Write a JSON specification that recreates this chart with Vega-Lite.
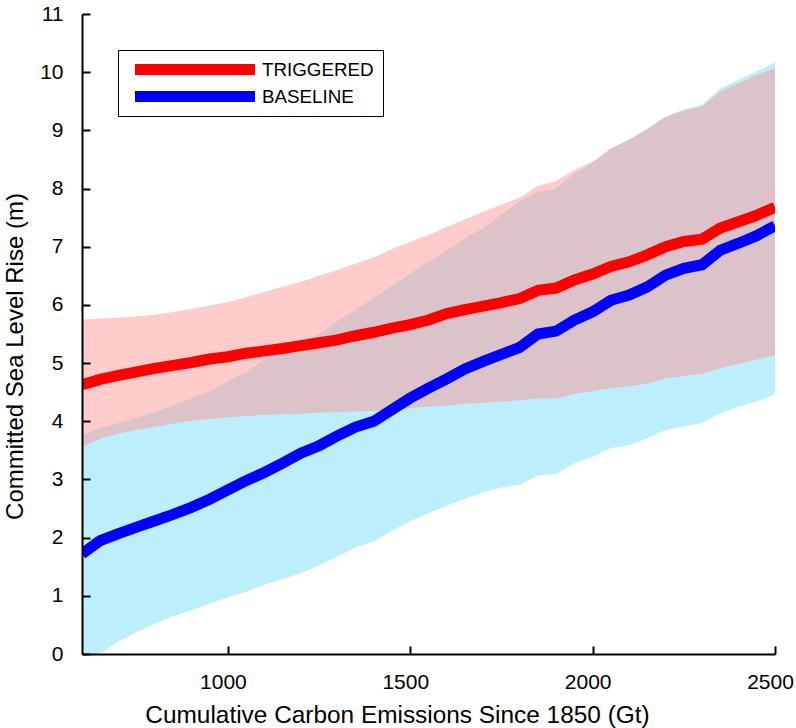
{
  "$schema": "https://vega.github.io/schema/vega-lite/v6.json",
  "width": 693,
  "height": 640,
  "autosize": {"type": "none"},
  "padding": {"left": 82, "top": 14, "right": 21, "bottom": 74},
  "background": "white",
  "data": {
    "values": [
      {"x": 600, "TRIGGERED": 4.63, "BASELINE": 1.72, "pinkLo": 3.56, "pinkHi": 5.75, "blueLo": -0.35, "blueHi": 3.76},
      {"x": 650, "TRIGGERED": 4.72, "BASELINE": 1.95, "pinkLo": 3.70, "pinkHi": 5.76, "blueLo": 0.0, "blueHi": 3.88},
      {"x": 700, "TRIGGERED": 4.79, "BASELINE": 2.07, "pinkLo": 3.79, "pinkHi": 5.78, "blueLo": 0.22, "blueHi": 3.97},
      {"x": 750, "TRIGGERED": 4.85, "BASELINE": 2.18, "pinkLo": 3.85, "pinkHi": 5.80, "blueLo": 0.38, "blueHi": 4.06},
      {"x": 800, "TRIGGERED": 4.91, "BASELINE": 2.29, "pinkLo": 3.90, "pinkHi": 5.83, "blueLo": 0.52, "blueHi": 4.16},
      {"x": 850, "TRIGGERED": 4.96, "BASELINE": 2.40, "pinkLo": 3.96, "pinkHi": 5.88, "blueLo": 0.65, "blueHi": 4.27},
      {"x": 900, "TRIGGERED": 5.01, "BASELINE": 2.52, "pinkLo": 4.01, "pinkHi": 5.93, "blueLo": 0.75, "blueHi": 4.39},
      {"x": 950, "TRIGGERED": 5.07, "BASELINE": 2.66, "pinkLo": 4.04, "pinkHi": 5.99, "blueLo": 0.87, "blueHi": 4.52},
      {"x": 1000, "TRIGGERED": 5.11, "BASELINE": 2.82, "pinkLo": 4.07, "pinkHi": 6.05, "blueLo": 0.97, "blueHi": 4.69},
      {"x": 1050, "TRIGGERED": 5.17, "BASELINE": 2.98, "pinkLo": 4.09, "pinkHi": 6.13, "blueLo": 1.07, "blueHi": 4.85},
      {"x": 1100, "TRIGGERED": 5.21, "BASELINE": 3.12, "pinkLo": 4.11, "pinkHi": 6.22, "blueLo": 1.19, "blueHi": 5.06},
      {"x": 1150, "TRIGGERED": 5.25, "BASELINE": 3.28, "pinkLo": 4.12, "pinkHi": 6.31, "blueLo": 1.29, "blueHi": 5.22},
      {"x": 1200, "TRIGGERED": 5.30, "BASELINE": 3.45, "pinkLo": 4.13, "pinkHi": 6.40, "blueLo": 1.39, "blueHi": 5.36},
      {"x": 1250, "TRIGGERED": 5.35, "BASELINE": 3.58, "pinkLo": 4.15, "pinkHi": 6.50, "blueLo": 1.52, "blueHi": 5.50},
      {"x": 1300, "TRIGGERED": 5.40, "BASELINE": 3.75, "pinkLo": 4.16, "pinkHi": 6.60, "blueLo": 1.68, "blueHi": 5.72},
      {"x": 1350, "TRIGGERED": 5.47, "BASELINE": 3.90, "pinkLo": 4.17, "pinkHi": 6.71, "blueLo": 1.83, "blueHi": 5.92},
      {"x": 1400, "TRIGGERED": 5.53, "BASELINE": 4.00, "pinkLo": 4.18, "pinkHi": 6.82, "blueLo": 1.94, "blueHi": 6.12},
      {"x": 1450, "TRIGGERED": 5.60, "BASELINE": 4.20, "pinkLo": 4.20, "pinkHi": 6.96, "blueLo": 2.12, "blueHi": 6.33},
      {"x": 1500, "TRIGGERED": 5.66, "BASELINE": 4.40, "pinkLo": 4.23, "pinkHi": 7.08, "blueLo": 2.28, "blueHi": 6.54},
      {"x": 1550, "TRIGGERED": 5.74, "BASELINE": 4.57, "pinkLo": 4.25, "pinkHi": 7.20, "blueLo": 2.42, "blueHi": 6.74},
      {"x": 1600, "TRIGGERED": 5.85, "BASELINE": 4.73, "pinkLo": 4.27, "pinkHi": 7.34, "blueLo": 2.55, "blueHi": 6.93},
      {"x": 1650, "TRIGGERED": 5.92, "BASELINE": 4.90, "pinkLo": 4.30, "pinkHi": 7.47, "blueLo": 2.67, "blueHi": 7.14},
      {"x": 1700, "TRIGGERED": 5.98, "BASELINE": 5.03, "pinkLo": 4.32, "pinkHi": 7.60, "blueLo": 2.78, "blueHi": 7.32},
      {"x": 1750, "TRIGGERED": 6.04, "BASELINE": 5.15, "pinkLo": 4.34, "pinkHi": 7.72, "blueLo": 2.86, "blueHi": 7.55},
      {"x": 1800, "TRIGGERED": 6.11, "BASELINE": 5.27, "pinkLo": 4.36, "pinkHi": 7.84, "blueLo": 2.91, "blueHi": 7.78},
      {"x": 1850, "TRIGGERED": 6.25, "BASELINE": 5.50, "pinkLo": 4.39, "pinkHi": 8.05, "blueLo": 3.07, "blueHi": 7.94},
      {"x": 1900, "TRIGGERED": 6.29, "BASELINE": 5.55, "pinkLo": 4.39, "pinkHi": 8.13, "blueLo": 3.10, "blueHi": 8.00},
      {"x": 1950, "TRIGGERED": 6.43, "BASELINE": 5.74, "pinkLo": 4.47, "pinkHi": 8.32, "blueLo": 3.28, "blueHi": 8.26},
      {"x": 2000, "TRIGGERED": 6.53, "BASELINE": 5.88, "pinkLo": 4.52, "pinkHi": 8.46, "blueLo": 3.39, "blueHi": 8.44},
      {"x": 2050, "TRIGGERED": 6.66, "BASELINE": 6.08, "pinkLo": 4.57, "pinkHi": 8.69, "blueLo": 3.54, "blueHi": 8.69},
      {"x": 2100, "TRIGGERED": 6.74, "BASELINE": 6.17, "pinkLo": 4.60, "pinkHi": 8.84, "blueLo": 3.59, "blueHi": 8.84},
      {"x": 2150, "TRIGGERED": 6.86, "BASELINE": 6.31, "pinkLo": 4.65, "pinkHi": 9.02, "blueLo": 3.71, "blueHi": 9.03},
      {"x": 2200, "TRIGGERED": 7.00, "BASELINE": 6.51, "pinkLo": 4.74, "pinkHi": 9.23, "blueLo": 3.85, "blueHi": 9.24},
      {"x": 2250, "TRIGGERED": 7.09, "BASELINE": 6.63, "pinkLo": 4.78, "pinkHi": 9.34, "blueLo": 3.91, "blueHi": 9.36},
      {"x": 2300, "TRIGGERED": 7.13, "BASELINE": 6.69, "pinkLo": 4.82, "pinkHi": 9.41, "blueLo": 3.97, "blueHi": 9.44},
      {"x": 2350, "TRIGGERED": 7.32, "BASELINE": 6.94, "pinkLo": 4.91, "pinkHi": 9.67, "blueLo": 4.14, "blueHi": 9.72},
      {"x": 2400, "TRIGGERED": 7.43, "BASELINE": 7.06, "pinkLo": 4.99, "pinkHi": 9.81, "blueLo": 4.25, "blueHi": 9.87},
      {"x": 2450, "TRIGGERED": 7.54, "BASELINE": 7.19, "pinkLo": 5.06, "pinkHi": 9.95, "blueLo": 4.34, "blueHi": 10.01},
      {"x": 2500, "TRIGGERED": 7.68, "BASELINE": 7.36, "pinkLo": 5.14, "pinkHi": 10.07, "blueLo": 4.47, "blueHi": 10.17}
    ]
  },
  "encoding": {
    "x": {
      "field": "x",
      "type": "quantitative",
      "scale": {"domain": [600, 2500], "nice": false, "zero": false},
      "axis": {
        "title": "Cumulative Carbon Emissions Since 1850 (Gt)",
        "values": [1000, 1500, 2000, 2500],
        "format": "d",
        "ticks": true,
        "tickSize": -8,
        "tickWidth": 2,
        "tickColor": "#000000",
        "labelPadding": 25,
        "labelOffset": -5,
        "labelFlush": false,
        "labelOverlap": false,
        "titleX": 315,
        "titleY": 68,
        "titleAlign": "center",
        "titleBaseline": "alphabetic",
        "titleFontSize": 24.4,
        "zindex": 1
      }
    }
  },
  "layer": [
    {
      "mark": {"type": "area", "color": "#BCEEFB", "opacity": 1, "clip": true},
      "encoding": {
        "y": {
          "field": "blueLo",
          "type": "quantitative",
          "scale": {"domain": [0, 11], "nice": false},
          "title": "Committed Sea Level Rise (m)",
          "axis": {
            "title": "Committed Sea Level Rise (m)",
            "values": [0, 1, 2, 3, 4, 5, 6, 7, 8, 9, 10, 11],
            "format": "d",
            "ticks": true,
            "tickSize": -8,
            "tickWidth": 2,
            "tickColor": "#000000",
            "labelPadding": 27,
            "labelFlush": false,
            "labelOverlap": false,
            "titleX": -60,
            "titleY": 342,
            "titleAngle": 270,
            "titleAlign": "center",
            "titleBaseline": "alphabetic",
            "zindex": 1
          }
        },
        "y2": {"field": "blueHi"}
      }
    },
    {
      "mark": {"type": "area", "color": "#FF9494", "opacity": 0.485, "clip": true},
      "encoding": {
        "y": {
          "field": "pinkLo",
          "type": "quantitative",
          "scale": {"domain": [0, 11], "nice": false},
          "title": "Committed Sea Level Rise (m)"
        },
        "y2": {"field": "pinkHi"}
      }
    },
    {
      "transform": [{"fold": ["TRIGGERED", "BASELINE"], "as": ["series", "value"]}],
      "mark": {"type": "line", "strokeWidth": 11, "clip": true},
      "encoding": {
        "y": {
          "field": "value",
          "type": "quantitative",
          "scale": {"domain": [0, 11], "nice": false},
          "title": "Committed Sea Level Rise (m)"
        },
        "color": {
          "field": "series",
          "type": "nominal",
          "scale": {"domain": ["TRIGGERED", "BASELINE"], "range": ["#FF0000", "#0000FF"]},
          "legend": {
            "orient": "none",
            "legendX": 36,
            "legendY": 36,
            "title": null,
            "strokeColor": "black",
            "fillColor": "white",
            "padding": 9,
            "symbolType": "M-0.5,0L23.5,0",
            "symbolSize": 100,
            "symbolStrokeWidth": 11,
            "labelFont": "Liberation Sans",
            "labelFontSize": 18.8,
            "labelColor": "black",
            "labelOffset": 114,
            "clipHeight": 21,
            "rowPadding": 6
          }
        }
      }
    }
  ],
  "config": {
    "view": {"stroke": null},
    "axis": {
      "grid": false,
      "domainColor": "black",
      "domainWidth": 2,
      "labelFont": "Liberation Sans",
      "labelFontSize": 21,
      "labelColor": "black",
      "titleFont": "Liberation Sans",
      "titleFontSize": 24,
      "titleFontWeight": "normal",
      "titleColor": "black"
    }
  }
}
